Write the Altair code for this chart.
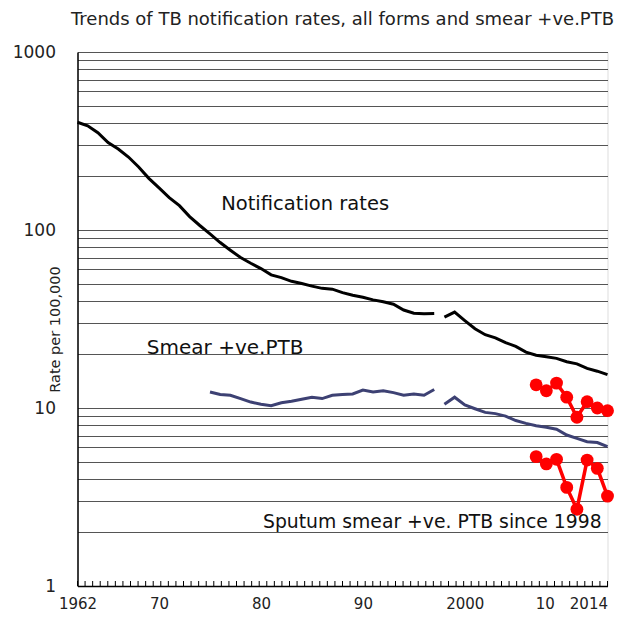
import altair as alt
import pandas as pd

# ---- data ----
notif_years_a = list(range(1962, 1998))
notif_a = [403.2, 385, 352, 309.9, 285, 257, 226, 195, 172.3, 152, 137, 119, 106, 95,
           85, 77, 70, 65, 60.7, 56, 54, 51.5, 50, 48.4, 47, 46.5, 44.5, 43, 41.9,
           40.5, 39.5, 38.3, 35.5, 34.1, 33.8, 33.9]
notif_years_b = list(range(1998, 2015))
notif_b = [32.4, 34.6, 31.0, 27.9, 25.8, 24.8, 23.3, 22.2, 20.6, 19.8, 19.4, 19.0,
           18.2, 17.7, 16.7, 16.1, 15.4]

smear_years_a = list(range(1975, 1998))
smear_a = [12.3, 11.9, 11.8, 11.3, 10.8, 10.5, 10.3, 10.7, 10.9, 11.2, 11.5, 11.3,
           11.8, 11.9, 12.0, 12.6, 12.3, 12.5, 12.2, 11.8, 12.0, 11.8, 12.7]
smear_years_b = list(range(1998, 2015))
smear_b = [10.5, 11.5, 10.4, 9.9, 9.45, 9.3, 9.0, 8.5, 8.2, 7.95, 7.8, 7.6, 7.05,
           6.75, 6.47, 6.4, 6.06]

red_years = list(range(2007, 2015))
red_upper = [13.5, 12.5, 13.8, 11.5, 8.87, 10.85, 10.0, 9.66]
red_lower = [5.33, 4.85, 5.15, 3.58, 2.70, 5.1, 4.58, 3.2]

x_tick_years = [1962, 1970, 1980, 1990, 2000, 2010, 2014]
x_tick_labels = ["1962", "70", "80", "90", "2000", "10", "2014"]
y_label_values = [1, 10, 100, 1000]
y_grid_values = [m * d for d in (1, 10, 100) for m in range(1, 10)] + [1000]
n_minor_ticks = 70  # small tick marks along the year axis

annot_text = ["Notification rates", "Smear +ve.PTB", "Sputum smear +ve. PTB since 1998"]
annot_year = [1976.1, 1968.8, 1980.2]
annot_value = [140, 21.7, 2.29]
annot_size = [19.5, 20, 18.8]

# ---- tables ----
rows = []
for seg, yrs, vals in [("n1", notif_years_a, notif_a), ("n2", notif_years_b, notif_b)]:
    rows += [{"year": y, "value": v, "seg": seg} for y, v in zip(yrs, vals)]
notif_df = pd.DataFrame(rows)
rows = []
for seg, yrs, vals in [("s1", smear_years_a, smear_a), ("s2", smear_years_b, smear_b)]:
    rows += [{"year": y, "value": v, "seg": seg} for y, v in zip(yrs, vals)]
smear_df = pd.DataFrame(rows)
rows = []
for seg, vals in [("r1", red_upper), ("r2", red_lower)]:
    rows += [{"year": y, "value": v, "seg": seg} for y, v in zip(red_years, vals)]
red_df = pd.DataFrame(rows)
tick_df = pd.DataFrame({"year": [1962 + k * 52 / n_minor_ticks for k in range(n_minor_ticks + 1)]})
annot_df = pd.DataFrame({"text": annot_text, "year": annot_year, "value": annot_value, "size": annot_size})

W, H = 530, 534
xscale = alt.Scale(domain=[1962, 2014], nice=False, zero=False)
yscale = alt.Scale(type="log", domain=[1, 1000], nice=False)

label_expr = " : ".join(
    f"datum.value == {y} ? '{l}'" for y, l in zip(x_tick_years, x_tick_labels)
) + " : ''"
ylabel_expr = " || ".join(f"datum.value == {v}" for v in y_label_values)
ylabel_expr = f"({ylabel_expr}) ? format(datum.value, 'd') : ''"

x_axis = alt.Axis(values=x_tick_years, labelExpr=label_expr, grid=False, ticks=False,
                  domain=True, domainColor="#000", domainWidth=1.5, labelFont="DejaVu Sans",
                  labelFontSize=15, labelColor="#222", labelPadding=10, labelFlush=False,
                  labelAlign={"condition": {"test": f"datum.value == {x_tick_years[-1]}",
                                            "value": "right"}, "value": "center"},
                  labelOffset={"condition": {"test": f"datum.value == {x_tick_years[-2]}",
                                             "value": -22}, "value": 0},
                  labelOverlap=False, title=None)
y_axis = alt.Axis(values=y_grid_values, labelExpr=ylabel_expr, grid=True, gridColor="#555",
                  gridWidth=1, ticks=False, domain=True, domainColor="#000", domainWidth=1.5,
                  labelFont="DejaVu Sans", labelFontSize=17, labelColor="#222",
                  labelPadding=22, labelOverlap=False, labelFlush=False,
                  title="Rate per 100,000", titleFont="DejaVu Sans", titleFontSize=14.5,
                  titleFontWeight="normal", titleColor="#222", titleAngle=-90,
                  titleX=-22, titleY=277, titleAlign="center", titleBaseline="middle")

base_x = alt.X("year:Q", scale=xscale, axis=x_axis)
base_y = alt.Y("value:Q", scale=yscale, axis=y_axis)

grid_layer = alt.Chart(notif_df).mark_line(opacity=0).encode(x=base_x, y=base_y, detail="seg:N")

ticks = alt.Chart(tick_df).mark_rule(color="#000", strokeWidth=1).encode(
    x=alt.X("year:Q", scale=xscale), y=alt.value(H), y2=alt.value(H - 5))

notif_line = alt.Chart(notif_df).mark_line(color="#000", strokeWidth=3).encode(
    x=alt.X("year:Q", scale=xscale), y=alt.Y("value:Q", scale=yscale), detail="seg:N")
smear_line = alt.Chart(smear_df).mark_line(color="#3D4173", strokeWidth=3).encode(
    x=alt.X("year:Q", scale=xscale), y=alt.Y("value:Q", scale=yscale), detail="seg:N")
red_line = alt.Chart(red_df).mark_line(color="#FF0000", strokeWidth=3.5).encode(
    x=alt.X("year:Q", scale=xscale), y=alt.Y("value:Q", scale=yscale), detail="seg:N")
red_pts = alt.Chart(red_df).mark_circle(color="#FF0000", size=165, opacity=1).encode(
    x=alt.X("year:Q", scale=xscale), y=alt.Y("value:Q", scale=yscale))

annots = alt.Chart(annot_df).mark_text(align="left", baseline="middle", font="DejaVu Sans",
                                       color="#111").encode(
    x=alt.X("year:Q", scale=xscale), y=alt.Y("value:Q", scale=yscale),
    text="text:N", size=alt.Size("size:Q", scale=None, legend=None))

chart = alt.layer(grid_layer, ticks, notif_line, smear_line, red_line, red_pts, annots).properties(
    width=W, height=H,
    title=alt.TitleParams("Trends of TB notification rates, all forms and smear +ve.PTB",
                          font="DejaVu Sans", fontSize=18, fontWeight="normal",
                          color="#222", anchor="middle", offset=14),
    autosize=alt.AutoSizeParams(type="none"),
    padding={"left": 69.5, "top": 44, "right": 14, "bottom": 26},
).configure_view(stroke="#555", strokeWidth=1.5).configure(background="white")

chart.save("out.html", embed_options={"renderer": "svg", "actions": False})
